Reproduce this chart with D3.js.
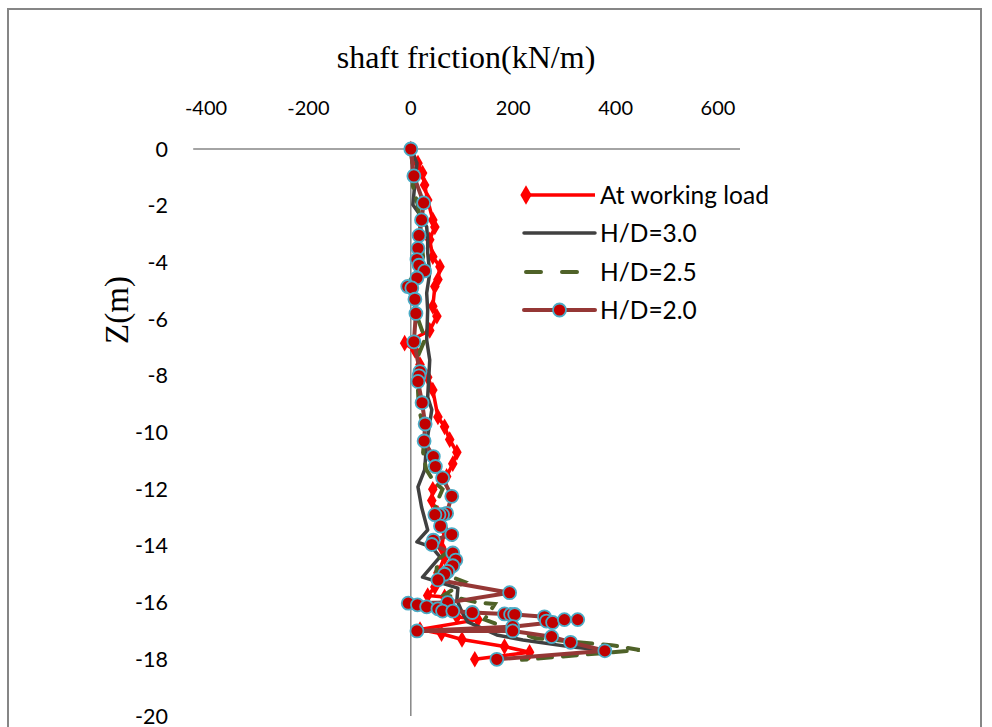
<!DOCTYPE html>
<html><head><meta charset="utf-8">
<script src="https://cdn.jsdelivr.net/npm/d3@7"></script>
<style>body{margin:0;background:#fff}</style>
</head><body>
<svg id="c" width="992" height="727"></svg>
<script>
const xTicks = [-400,-200,0,200,400,600];
const yTicks = [0,-2,-4,-6,-8,-10,-12,-14,-16,-18,-20];
const seriesNames = ["At working load","H/D=3.0","H/D=2.5","H/D=2.0"];

// [shaft friction kN/m, Z m]
const workingLoad = [[0,0],[14,-0.5],[23,-0.85],[27,-1.27],[33,-1.8],[43,-2.5],[47,-2.75],[37,-3.2],[43,-3.8],[57,-4.15],[53,-4.6],[47,-4.85],[43,-5.55],[51,-5.9],[37,-6.4],[-12,-6.85],[8,-7.1],[18,-7.6],[33,-8.05],[43,-8.5],[53,-9.45],[66,-9.8],[76,-10.25],[90,-10.7],[82,-11.1],[70,-11.55],[43,-12.0],[41,-12.4],[53,-12.85],[66,-13.45],[60,-14.05],[66,-14.4],[53,-14.95],[47,-15.45],[33,-15.75],[66,-15.8],[72,-16.15],[90,-16.5],[131,-16.6],[18,-16.95],[60,-17.1],[100,-17.3],[183,-17.55],[232,-17.75],[125,-18.0]];
const hd30 = [[0,0],[12,-0.5],[8,-1.2],[4,-1.97],[14,-2.22],[31,-2.75],[33,-3.2],[33,-3.67],[37,-4.37],[31,-5.08],[33,-5.68],[31,-6.74],[37,-7.44],[33,-8.75],[41,-9.2],[31,-10.37],[27,-11.32],[14,-11.92],[21,-12.63],[33,-13.44],[12,-13.86],[41,-14.04],[57,-14.39],[23,-15.1],[92,-15.49],[90,-15.91],[101,-16.37],[111,-16.68],[168,-17.14],[219,-17.32],[316,-17.57],[373,-17.67]];
const hd25 = [[0,0],[6,-1.0],[4,-1.3],[14,-2.0],[18,-2.6],[22,-3.5],[24,-3.8],[16,-4.3],[0,-4.6],[6,-5.2],[10,-5.8],[24,-6.5],[28,-6.7],[14,-7.3],[16,-8.0],[14,-8.5],[16,-9.2],[28,-10.0],[24,-10.7],[30,-11.3],[44,-11.7],[62,-12.0],[50,-12.5],[46,-12.9],[60,-13.3],[86,-13.9],[80,-14.1],[52,-14.5],[50,-14.9],[105,-15.27],[66,-15.73],[131,-16.0],[164,-16.05],[144,-16.6],[242,-17.25],[326,-17.4],[392,-17.5],[447,-17.67],[217,-18.02]];
const hd20 = [[0,0],[6,-0.95],[25,-1.9],[21,-2.5],[16,-3.05],[14,-3.5],[12,-3.9],[16,-4.1],[27,-4.3],[12,-4.55],[-6,-4.85],[2,-4.9],[8,-5.3],[10,-5.8],[6,-6.8],[18,-7.85],[16,-8.0],[14,-8.2],[22,-8.95],[28,-9.7],[26,-10.3],[44,-10.85],[48,-11.2],[62,-11.6],[80,-12.25],[70,-12.85],[62,-12.9],[55,-12.9],[47,-12.9],[58,-13.3],[80,-13.6],[44,-13.8],[41,-13.95],[82,-14.25],[88,-14.5],[82,-14.7],[72,-14.9],[66,-15.0],[53,-15.2],[193,-15.65],[72,-16.0],[-5,-16.02],[13,-16.08],[31,-16.15],[53,-16.22],[62,-16.3],[82,-16.3],[120,-16.35],[183,-16.4],[195,-16.42],[203,-16.42],[261,-16.5],[265,-16.65],[277,-16.7],[300,-16.6],[326,-16.6],[199,-16.85],[12,-17.0],[199,-17.0],[275,-17.2],[312,-17.4],[379,-17.7],[168,-18.0]];

const svg = d3.select("#c");
const x = d3.scaleLinear().domain([-400,600]).range([206,718]);
const y = d3.scaleLinear().domain([0,-20]).range([149,716]);
const grey = "#868686";

// chart frame
svg.append("rect").attr("x",8).attr("y",9).attr("width",973).attr("height",740)
  .attr("fill","none").attr("stroke",grey).attr("stroke-width",2);

// axis lines
svg.append("line").attr("x1",x(-425)).attr("x2",x(643)).attr("y1",y(0)).attr("y2",y(0))
  .attr("stroke",grey).attr("stroke-width",1.5);
svg.append("line").attr("x1",x(0)).attr("x2",x(0)).attr("y1",y(0)).attr("y2",y(-20))
  .attr("stroke",grey).attr("stroke-width",1.5);

const tickFont = "Lato, 'Open Sans', sans-serif";
svg.append("g").selectAll("text").data(xTicks).join("text")
  .attr("x",d=>x(d)).attr("y",115).attr("text-anchor","middle")
  .attr("font-family",tickFont).attr("font-size",20).attr("fill","#000").text(d=>d);
svg.append("g").selectAll("text").data(yTicks).join("text")
  .attr("x",168).attr("y",d=>y(d)+7.5).attr("text-anchor","end")
  .attr("font-family",tickFont).attr("font-size",21.5).attr("fill","#000").text(d=>d);

svg.append("text").attr("x",466).attr("y",68).attr("text-anchor","middle")
  .attr("font-family","'Liberation Serif','Times New Roman',serif").attr("font-size",32)
  .text("shaft friction(kN/m)");
svg.append("text").attr("transform","translate(128,310) rotate(-90)").attr("text-anchor","middle")
  .attr("font-family","'Liberation Serif','Times New Roman',serif").attr("font-size",33)
  .text("Z(m)");

const line = d3.line().x(d=>x(d[0])).y(d=>y(d[1]));

// series
const g = svg.append("g");
g.append("path").datum(workingLoad).attr("d",line).attr("fill","none").attr("stroke","#FF0000").attr("stroke-width",3.5).attr("stroke-linejoin","round");
g.append("g").selectAll("path").data(workingLoad).join("path")
  .attr("transform",d=>`translate(${x(d[0])},${y(d[1])})`).attr("d",d3.symbol().type(d3.symbolDiamond).size(80)).attr("fill","#FF0000");
g.append("path").datum(hd30).attr("d",line).attr("fill","none").attr("stroke","#404040").attr("stroke-width",3.5).attr("stroke-linejoin","round");
g.append("path").datum(hd25).attr("d",line).attr("fill","none").attr("stroke","#4F6228").attr("stroke-width",4).attr("stroke-dasharray","14,11").attr("stroke-linecap","round");
g.append("path").datum(hd20).attr("d",line).attr("fill","none").attr("stroke","#953735").attr("stroke-width",4).attr("stroke-linejoin","round");
g.append("g").selectAll("circle").data(hd20).join("circle")
  .attr("cx",d=>x(d[0])).attr("cy",d=>y(d[1])).attr("r",6.5)
  .attr("fill","#C00000").attr("stroke","#4BACC6").attr("stroke-width",1.8);

// legend
const legY = [195,233,272,310];
const lg = svg.append("g");
const lx1 = 524, lx2 = 595;
lg.append("line").attr("x1",lx1).attr("x2",lx2).attr("y1",legY[0]).attr("y2",legY[0]).attr("stroke","#FF0000").attr("stroke-width",3.5);
lg.append("path").attr("transform",`translate(${lx1+2},${legY[0]})`).attr("d",d3.symbol().type(d3.symbolDiamond).size(110)).attr("fill","#FF0000");
lg.append("line").attr("x1",lx1).attr("x2",lx2).attr("y1",legY[1]).attr("y2",legY[1]).attr("stroke","#404040").attr("stroke-width",3.5).attr("stroke-linecap","round");
lg.append("line").attr("x1",lx1+2).attr("x2",lx2).attr("y1",legY[2]).attr("y2",legY[2]).attr("stroke","#4F6228").attr("stroke-width",4).attr("stroke-dasharray","15,21").attr("stroke-linecap","round");
lg.append("line").attr("x1",lx1).attr("x2",lx2).attr("y1",legY[3]).attr("y2",legY[3]).attr("stroke","#953735").attr("stroke-width",4).attr("stroke-linecap","round");
lg.append("circle").attr("cx",(lx1+lx2)/2).attr("cy",legY[3]).attr("r",6.5).attr("fill","#C00000").attr("stroke","#4BACC6").attr("stroke-width",1.8);
lg.selectAll("text").data(seriesNames).join("text")
  .attr("x",600).attr("y",(d,i)=>legY[i]+8.5).attr("font-family",tickFont).attr("font-size",24.5).attr("fill","#000").text(d=>d);
</script>
</body></html>
